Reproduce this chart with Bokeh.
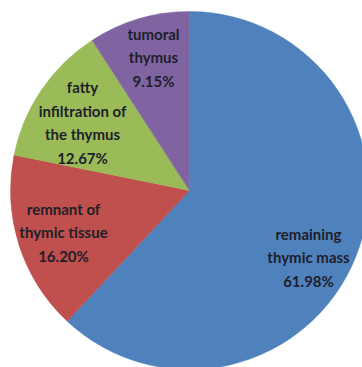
import numpy as np
from bokeh.plotting import figure
from bokeh.models import ColumnDataSource, Range1d
from bokeh.core.properties import value
from bokeh.embed import file_html
from bokeh.resources import INLINE

# --- data ---
categories = ["remaining\nthymic mass", "remnant of\nthymic tissue",
              "fatty\ninfiltration of\nthe thymus", "tumoral\nthymus"]
percentages = [61.98, 16.20, 12.67, 9.15]
colors = ["#4F81BD", "#C0504D", "#9BBB59", "#8064A2"]

# --- layout (pixel coordinates, y measured from top) ---
W, H = 362, 367
cx, cy, R = 189, 190, 179
label_pos = [(308, 257), (63, 232), (82, 122), (153, 57)]

vals = np.array(percentages)
frac = vals / vals.sum()
ends = np.cumsum(frac) * 2 * np.pi
starts = ends - frac * 2 * np.pi
start_angle = np.pi / 2 - starts
end_angle = np.pi / 2 - ends

src = ColumnDataSource(dict(start=start_angle, end=end_angle, color=colors))

p = figure(width=W, height=H, output_backend="svg", toolbar_location=None,
           x_range=Range1d(0, W), y_range=Range1d(0, H), min_border=0)
p.axis.visible = False
p.grid.visible = False
p.outline_line_color = None
p.background_fill_color = "white"
p.border_fill_color = "white"

p.wedge(x=cx, y=H - cy, radius=R, start_angle="start", end_angle="end",
        direction="clock", fill_color="color", line_color="color",
        line_width=0.5, source=src)

labels = [f"{c}\n{v:.2f}%" for c, v in zip(categories, percentages)]
lsrc = ColumnDataSource(dict(x=[lp[0] for lp in label_pos],
                             y=[H - lp[1] for lp in label_pos],
                             text=labels))
p.text(x="x", y="y", text="text", source=lsrc, text_align="center",
       text_baseline="middle", text_font=value("Lato"),
       text_font_style="bold", text_font_size="15px",
       text_line_height=1.3, text_color="#1e1e2a")

open("out.html", "w").write(file_html(p, INLINE))
